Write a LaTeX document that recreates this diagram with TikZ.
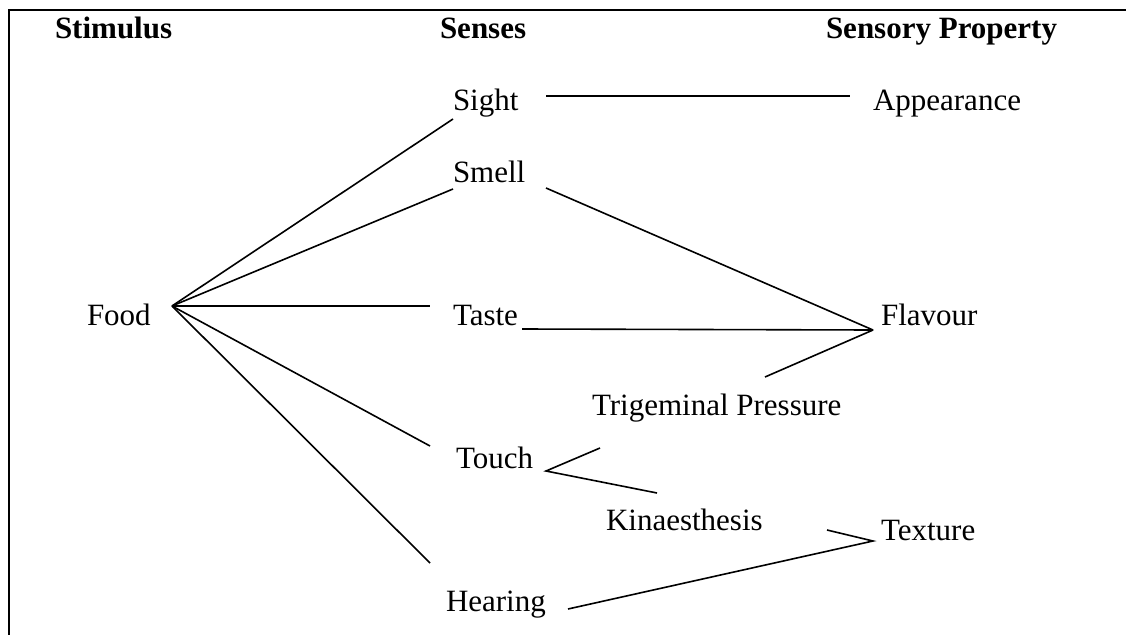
\documentclass[tikz,border=0pt]{standalone}
\usepackage{fontspec}
\setmainfont{Liberation Serif}
\begin{document}
\begin{tikzpicture}[x=1pt,y=-1pt,
  lbl/.style={inner sep=0pt,outer sep=0pt,anchor=base west,font=\fontsize{31}{36}\selectfont},
  hdr/.style={lbl,font=\fontsize{31}{36}\selectfont\bfseries},
  conn/.style={line width=1.6pt},
  frame/.style={line width=2pt}]
\useasboundingbox (0,0) rectangle (1126,634);
% frame (cut off at right and bottom)
\coordinate (frTR) at (1127,10);
\coordinate (frTL) at (9,10);
\coordinate (frBL) at (9,635);
\draw[frame] (frTR) -- (frTL) -- (frBL);
% headers
\node[hdr] (hStim) at (55,38) {Stimulus};
\node[hdr] (hSens) at (440,38) {Senses};
\node[hdr] (hProp) at (826,38) {Sensory Property};
% labels
\node[lbl] (food) at (87,325) {Food};
\node[lbl] (sight) at (453,110) {Sight};
\node[lbl] (smell) at (453,182) {Smell};
\node[lbl] (taste) at (453,325) {Taste};
\node[lbl] (touch) at (456,468) {Touch};
\node[lbl] (hearing) at (446,611) {Hearing};
\node[lbl] (trig) at (592,415) {Trigeminal Pressure};
\node[lbl] (kin) at (606,530) {Kinaesthesis};
\node[lbl] (appear) at (873,110) {Appearance};
\node[lbl] (flavour) at (881,325) {Flavour};
\node[lbl] (texture) at (881,540) {Texture};
% connector end points
\coordinate (foodHub) at (172,306);
\coordinate (sightIn) at (453,119);
\coordinate (smellIn) at (453,189);
\coordinate (tasteIn) at (430,306);
\coordinate (touchIn) at (430,446);
\coordinate (hearIn) at (430,563);
\coordinate (sightOut) at (546,96);
\coordinate (appearIn) at (850,96);
\coordinate (smellOut) at (546,188);
\coordinate (tasteOut) at (522,329);
\coordinate (flavHub) at (873,330);
\coordinate (trigOut) at (765,377);
\coordinate (touchHub) at (546,471);
\coordinate (trigIn) at (600,448);
\coordinate (kinIn) at (657,493);
\coordinate (kinOut) at (827,530);
\coordinate (texHub) at (873,541);
\coordinate (hearOut) at (568,609);
% connectors
\draw[conn] (foodHub) -- (sightIn);
\draw[conn] (foodHub) -- (smellIn);
\draw[conn] (foodHub) -- (tasteIn);
\draw[conn] (foodHub) -- (touchIn);
\draw[conn] (foodHub) -- (hearIn);
\draw[conn] (sightOut) -- (appearIn);
\draw[conn] (smellOut) -- (flavHub);
\draw[conn] (tasteOut) -- (flavHub);
\draw[conn] (trigOut) -- (flavHub);
\draw[conn] (trigIn) -- (touchHub) -- (kinIn);
\draw[conn] (kinOut) -- (texHub) -- (hearOut);
\end{tikzpicture}
\end{document}
